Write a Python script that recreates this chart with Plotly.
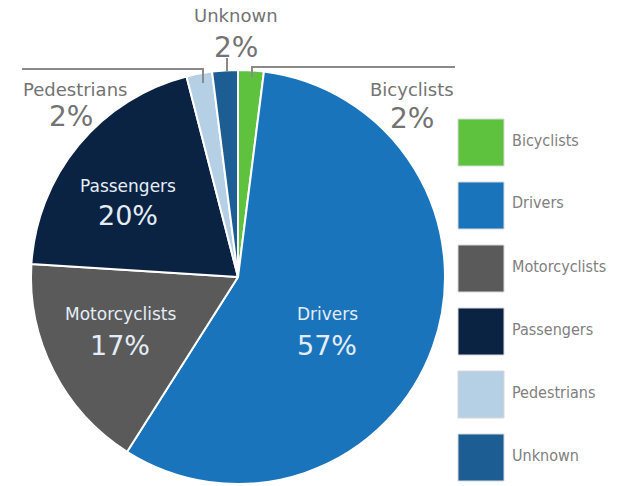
import plotly.graph_objects as go

# Share of fatalities by person type
labels = ["Bicyclists", "Drivers", "Motorcyclists", "Passengers", "Pedestrians", "Unknown"]
values = [2, 57, 17, 20, 2, 2]
colors = ["#5fc23f", "#1a74bb", "#5b5a5a", "#0b2342", "#b5cfe4", "#1c5e93"]

W, H = 618, 486
FONT = "DejaVu Sans"


def px(x):
    return x / W


def py(y):
    return 1 - y / H


fig = go.Figure()

# Pie centred at (238, 277) px, radius ~207 px
cx, cy, r = 238, 277, 207
fig.add_trace(go.Pie(
    labels=labels,
    values=values,
    sort=False,
    direction="clockwise",
    rotation=0,
    textinfo="none",
    hoverinfo="label+percent",
    marker=dict(colors=colors, line=dict(color="white", width=2)),
    domain=dict(x=[px(cx - r), px(cx + r)], y=[py(cy + r), py(cy - r)]),
    showlegend=False,
))

shapes = []
annotations = []

# (name x, name y, percent x, percent y) for each slice label
inside = {
    "Passengers": (128, 186, 128, 215),
    "Motorcyclists": (120, 314, 120, 345),
    "Drivers": (327, 314, 327, 345),
}
outside = {
    "Unknown": (236, 16, 236, 47),
    "Pedestrians": (75, 89, 71, 117),
    "Bicyclists": (412, 89, 412, 118),
}
leaders = {
    "Unknown": [(227, 58), (227, 72)],
    "Pedestrians": [(22, 69), (203, 69), (203, 83)],
    "Bicyclists": [(252, 77), (252, 67), (455, 67)],
}


def add_label(lab, val, pos, color, name_size, pct_size):
    nx, ny, vx, vy = pos
    annotations.append(dict(
        x=px(nx), y=py(ny), xref="paper", yref="paper", showarrow=False,
        text=lab, xanchor="center", yanchor="middle",
        font=dict(family=FONT, size=name_size, color=color),
    ))
    annotations.append(dict(
        x=px(vx), y=py(vy), xref="paper", yref="paper", showarrow=False,
        text=f"{val}%", xanchor="center", yanchor="middle",
        font=dict(family=FONT, size=pct_size, color=color),
    ))


for lab, val in zip(labels, values):
    if lab in inside:
        add_label(lab, val, inside[lab], "#e4edf6", 17, 27)
    elif lab in outside:
        add_label(lab, val, outside[lab], "#737373", 18, 28)
        pts = leaders[lab]
        path = "M " + " L ".join(f"{px(a)},{py(b)}" for a, b in pts)
        shapes.append(dict(type="path", path=path, xref="paper", yref="paper",
                           line=dict(color="#8a8a8a", width=2)))

# Legend with large colour swatches
for i, (lab, col) in enumerate(zip(labels, colors)):
    top = 119 + i * 63
    shapes.append(dict(
        type="rect", xref="paper", yref="paper",
        x0=px(458), x1=px(504), y0=py(top + 47), y1=py(top),
        fillcolor=col, line=dict(color="#d8d8d8", width=1),
    ))
    annotations.append(dict(
        x=px(510), y=py(top + 21), xref="paper", yref="paper", showarrow=False,
        text=lab, xanchor="left", yanchor="middle",
        font=dict(family="DejaVu Sans Condensed, DejaVu Sans", size=16, color="#808080"),
    ))

fig.update_layout(
    width=W, height=H,
    margin=dict(l=0, r=0, t=0, b=0),
    paper_bgcolor="white",
    plot_bgcolor="white",
    shapes=shapes,
    annotations=annotations,
)

fig.write_html("out.html")
